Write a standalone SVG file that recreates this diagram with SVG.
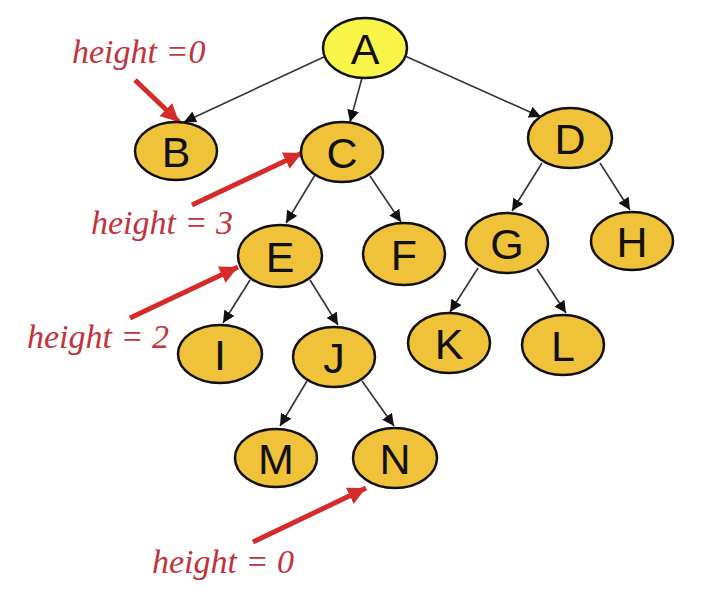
<svg xmlns="http://www.w3.org/2000/svg" width="714" height="616" viewBox="0 0 714 616">
<defs>
<marker id="ah" markerUnits="userSpaceOnUse" markerWidth="14" markerHeight="12" refX="12" refY="6" orient="auto">
<path d="M0,0 L12,6 L0,12 z" fill="#111"/>
</marker>
<marker id="rh" markerUnits="userSpaceOnUse" markerWidth="20" markerHeight="18" refX="18" refY="9" orient="auto">
<path d="M0,0 L18,9 L0,18 z" fill="#d62b2b"/>
</marker>
<style>
.n ellipse{fill:#efc23a;stroke:#111;stroke-width:2.5}
#A ellipse{fill:#f8f548}
.n text{font-family:"Liberation Sans",Arial,sans-serif;font-size:43px;fill:#111;text-anchor:middle}
.e line{stroke:#333;stroke-width:1.6;marker-end:url(#ah)}
.r line{stroke:#d62b2b;stroke-width:5;marker-end:url(#rh)}
.lbl{font-family:"Liberation Serif","Times New Roman",serif;font-style:italic;font-size:34px;fill:#c2323c}
</style>
</defs>
<rect width="714" height="616" fill="#fff"/>
<g id="edges" class="e">
<line x1="326" y1="56" x2="184" y2="122"/>
<line x1="362" y1="78" x2="350" y2="122"/>
<line x1="405" y1="56" x2="541" y2="117"/>
<line x1="315" y1="175" x2="286" y2="223"/>
<line x1="370" y1="176" x2="401" y2="222"/>
<line x1="542" y1="163" x2="512" y2="211"/>
<line x1="600" y1="163" x2="630" y2="210"/>
<line x1="478" y1="268" x2="450" y2="312"/>
<line x1="537" y1="269" x2="566" y2="313"/>
<line x1="250" y1="280" x2="223" y2="323"/>
<line x1="310" y1="280" x2="338" y2="325"/>
<line x1="307" y1="381" x2="280" y2="426"/>
<line x1="362" y1="381" x2="394" y2="426"/>
</g>
<g id="annotations" class="r">
<line x1="135" y1="80" x2="179" y2="122"/>
<line x1="192" y1="205" x2="302" y2="153"/>
<line x1="130" y1="318" x2="238" y2="267"/>
<line x1="253" y1="542" x2="366" y2="488"/>
</g>
<text class="lbl" x="72" y="63">height =0</text>
<text class="lbl" x="91" y="234">height = 3</text>
<text class="lbl" x="27" y="348">height = 2</text>
<text class="lbl" x="152" y="573">height = 0</text>
<g id="A" class="n"><ellipse cx="365" cy="48" rx="42" ry="30"/><text x="365" y="64">A</text></g>
<g id="B" class="n"><ellipse cx="176" cy="151" rx="41" ry="29"/><text x="176" y="167">B</text></g>
<g id="C" class="n"><ellipse cx="342" cy="152" rx="41" ry="30"/><text x="342" y="168">C</text></g>
<g id="D" class="n"><ellipse cx="570" cy="138" rx="42" ry="30"/><text x="570" y="154">D</text></g>
<g id="E" class="n"><ellipse cx="280" cy="256" rx="42" ry="31"/><text x="280" y="272">E</text></g>
<g id="F" class="n"><ellipse cx="404" cy="254" rx="41" ry="31"/><text x="404" y="270">F</text></g>
<g id="G" class="n"><ellipse cx="507" cy="243" rx="41" ry="30"/><text x="507" y="259">G</text></g>
<g id="H" class="n"><ellipse cx="632" cy="241" rx="41" ry="29"/><text x="632" y="257">H</text></g>
<g id="I" class="n"><ellipse cx="220" cy="354" rx="42" ry="29"/><text x="220" y="370">I</text></g>
<g id="J" class="n"><ellipse cx="334" cy="357" rx="41" ry="30"/><text x="334" y="373">J</text></g>
<g id="K" class="n"><ellipse cx="449" cy="343" rx="41" ry="30"/><text x="449" y="359">K</text></g>
<g id="L" class="n"><ellipse cx="563" cy="345" rx="41" ry="30"/><text x="563" y="361">L</text></g>
<g id="M" class="n"><ellipse cx="276" cy="458" rx="41" ry="29"/><text x="276" y="474">M</text></g>
<g id="N" class="n"><ellipse cx="395" cy="458" rx="42" ry="30"/><text x="395" y="474">N</text></g>
</svg>
